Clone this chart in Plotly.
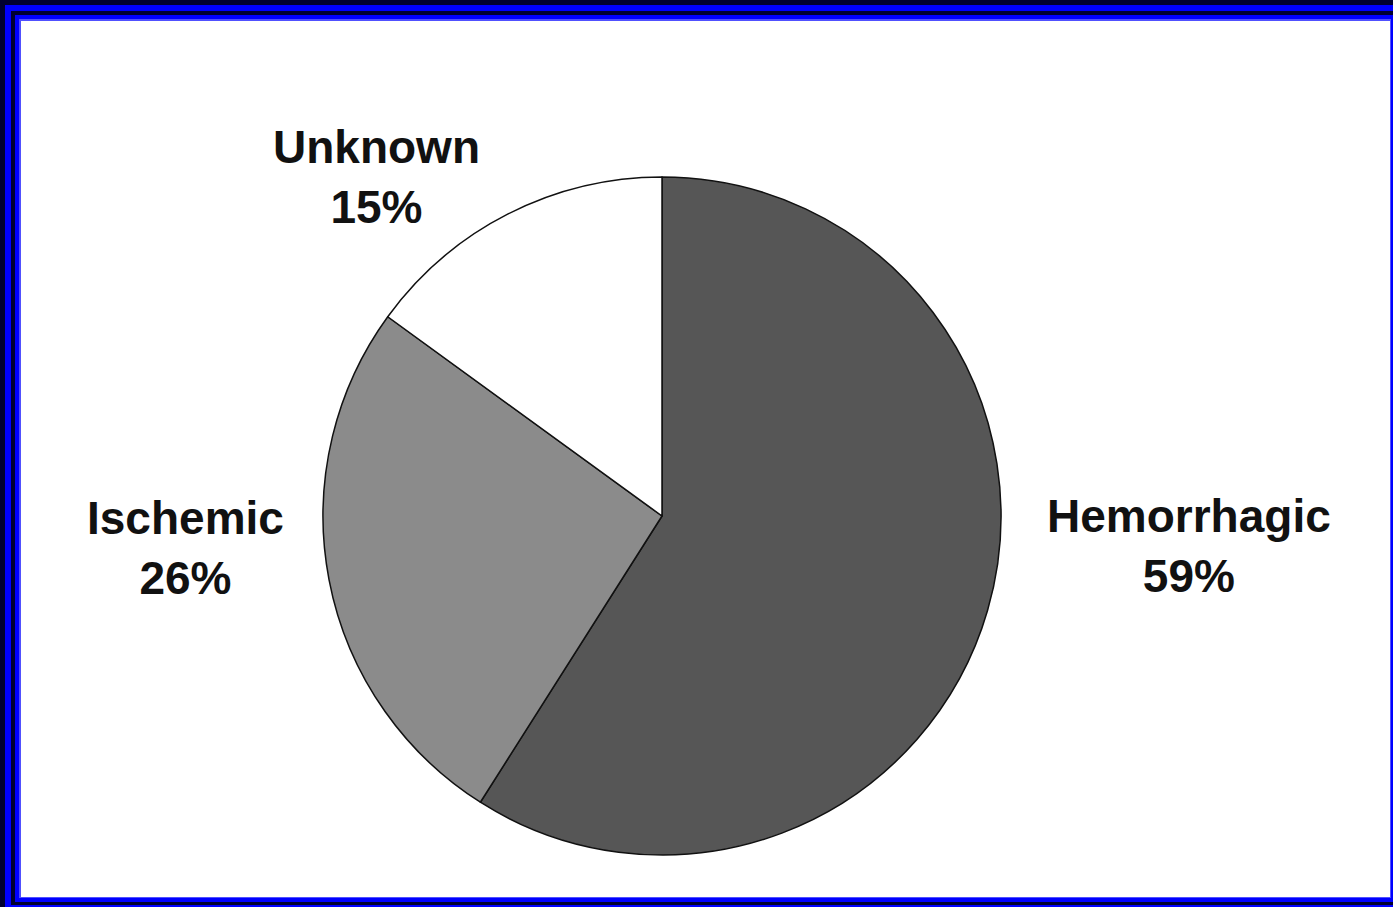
import plotly.graph_objects as go

# Stroke subtypes and their shares (%)
categories = ["Hemorrhagic", "Ischemic", "Unknown"]
shares = [59, 26, 15]
slice_colors = ["#565656", "#8b8b8b", "#ffffff"]

W, H = 1393, 907


def px_x(x):
    return x / W


def px_y(y):
    return 1 - y / H


fig = go.Figure()

# Pie centred at (662, 516) px with radius 339 px
cx, cy, r = 662, 516, 339
fig.add_trace(go.Pie(
    labels=categories,
    values=shares,
    sort=False,
    direction="clockwise",
    rotation=0,
    marker=dict(colors=slice_colors, line=dict(color="#111111", width=1.5)),
    textinfo="none",
    hoverinfo="label+percent",
    showlegend=False,
    domain=dict(x=[px_x(cx - r), px_x(cx + r)], y=[px_y(cy + r), px_y(cy - r)]),
))

# Nested frame around the figure
frame = [
    ("#000030", 0, 0, 1393, 907),
    ("#0000ff", 5, 5, 1393, 907),
    ("#000030", 11, 11, 1393, 905),
    ("#0000ff", 15, 15, 1393, 902),
    ("#5050ff", 19, 19, 1391, 898),
    ("#ffffff", 21, 21, 1390, 897),
]
shapes = []
for color, x0, y0, x1, y1 in frame:
    shapes.append(dict(
        type="rect", xref="paper", yref="paper", layer="below",
        x0=px_x(x0), x1=px_x(x1), y0=px_y(y1), y1=px_y(y0),
        fillcolor=color, line=dict(width=0),
    ))

# Slice labels: name on the first line, percentage on the second
label_pos = {
    "Hemorrhagic": (1189, 546),
    "Ischemic": (185, 548),
    "Unknown": (377, 177),
}
annotations = []
for name, val in zip(categories, shares):
    x, y = label_pos[name]
    annotations.append(dict(
        xref="paper", yref="paper", x=px_x(x), y=px_y(y),
        xanchor="center", yanchor="middle", showarrow=False,
        text=f"<b>{name}<br>{val}%</b>",
        align="center",
        font=dict(family="Liberation Sans, Arial, sans-serif", size=46, color="#111111"),
    ))

fig.update_layout(
    width=W, height=H,
    margin=dict(l=0, r=0, t=0, b=0),
    paper_bgcolor="#000030",
    plot_bgcolor="#ffffff",
    shapes=shapes,
    annotations=annotations,
)

fig.write_html("out.html")
